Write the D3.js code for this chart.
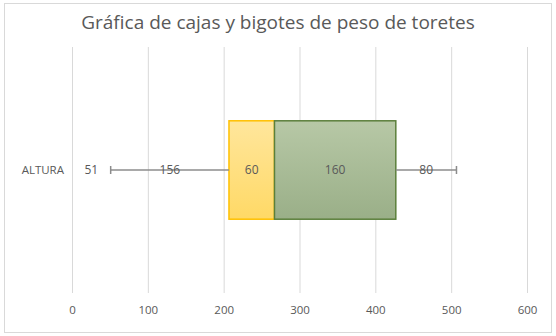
<html>
<head>
    <meta charset="UTF-8">
    <title>Gráfica de cajas y bigotes</title>
    <script src="https://cdnjs.cloudflare.com/ajax/libs/d3/7.8.5/d3.min.js"></script>
    <style>
        body { margin: 0; background: #fff; }
        text { font-family: "Open Sans", "DejaVu Sans", sans-serif; fill: #595959; }
    </style>
</head>
<body>
<script>
    // datos (segmentos apilados del diagrama de caja)
    var categorias = ["ALTURA"];
    var minimo = [51];
    var bigoteInf = [156];
    var cajaInf = [60];
    var cajaSup = [160];
    var bigoteSup = [80];
    var ticks = [0, 100, 200, 300, 400, 500, 600];

    var claves = ["minimo", "bigoteInf", "cajaInf", "cajaSup", "bigoteSup"];
    var tabla = categorias.map(function (c, i) {
        return {cat: c, minimo: minimo[i], bigoteInf: bigoteInf[i], cajaInf: cajaInf[i],
            cajaSup: cajaSup[i], bigoteSup: bigoteSup[i]};
    });

    var width = 556, height = 336;
    var margin = {left: 72, right: 29, top: 47, bottom: 43};

    var svg = d3.select("body").append("svg")
            .attr("width", width)
            .attr("height", height);

    var defs = svg.append("defs");
    var gAm = defs.append("linearGradient").attr("id", "amarillo")
            .attr("x1", 0).attr("y1", 0).attr("x2", 0).attr("y2", 1);
    gAm.append("stop").attr("offset", "0%").attr("stop-color", "#ffe69c");
    gAm.append("stop").attr("offset", "100%").attr("stop-color", "#ffd966");
    var gVe = defs.append("linearGradient").attr("id", "verde")
            .attr("x1", 0).attr("y1", 0).attr("x2", 0).attr("y2", 1);
    gVe.append("stop").attr("offset", "0%").attr("stop-color", "#b7c8a6");
    gVe.append("stop").attr("offset", "100%").attr("stop-color", "#9aaf88");

    // borde del gráfico
    svg.append("rect")
            .attr("x", 4.5).attr("y", 3.5)
            .attr("width", 547).attr("height", 329)
            .attr("fill", "#fff")
            .attr("stroke", "#d9d9d9");

    svg.append("text")
            .attr("x", width / 2)
            .attr("y", 29)
            .attr("text-anchor", "middle")
            .style("font-size", "19px")
            .text("Gráfica de cajas y bigotes de peso de toretes");

    var innerW = width - margin.left - margin.right;
    var innerH = height - margin.top - margin.bottom;

    var x = d3.scaleLinear().domain([0, 600]).range([0, innerW]);
    var y = d3.scaleBand().domain(categorias).range([0, innerH]).paddingInner(0.6).paddingOuter(0.3);

    var g = svg.append("g")
            .attr("transform", "translate(" + margin.left + "," + margin.top + ")");

    // rejilla
    g.selectAll(".grid")
            .data(ticks)
            .enter()
            .append("line")
            .attr("x1", function (d) { return x(d) + 0.5; })
            .attr("x2", function (d) { return x(d) + 0.5; })
            .attr("y1", 0)
            .attr("y2", innerH)
            .attr("stroke", "#d9d9d9")
            .attr("stroke-width", 1);

    var xAxis = d3.axisBottom(x).tickValues(ticks).tickSize(0).tickPadding(13);
    var ax = g.append("g")
            .attr("transform", "translate(0," + innerH + ")")
            .call(xAxis);
    ax.select(".domain").remove();
    ax.selectAll("text").style("font-size", "11.5px").attr("fill", "#595959");

    var yAxis = d3.axisLeft(y).tickSize(0).tickPadding(8);
    var ay = g.append("g").call(yAxis);
    ay.select(".domain").remove();
    ay.selectAll("text").style("font-size", "11.5px").attr("fill", "#595959");

    var series = d3.stack().keys(claves)(tabla);

    var relleno = {minimo: "none", bigoteInf: "none", cajaInf: "url(#amarillo)", cajaSup: "url(#verde)", bigoteSup: "none"};
    var trazo = {minimo: "none", bigoteInf: "none", cajaInf: "#ffc000", cajaSup: "#5b7f3b", bigoteSup: "none"};

    var capas = g.selectAll(".serie")
            .data(series)
            .enter()
            .append("g");

    capas.selectAll("rect")
            .data(function (s) { return s.map(function (d) { return {key: s.key, d: d}; }); })
            .enter()
            .append("rect")
            .attr("x", function (o) { return x(o.d[0]); })
            .attr("y", function (o) { return y(o.d.data.cat); })
            .attr("width", function (o) { return x(o.d[1]) - x(o.d[0]); })
            .attr("height", y.bandwidth())
            .attr("fill", function (o) { return relleno[o.key]; })
            .attr("stroke", function (o) { return trazo[o.key]; })
            .attr("stroke-width", 1.5);

    // bigotes
    var bigotes = series.filter(function (s) { return s.key === "bigoteInf" || s.key === "bigoteSup"; });
    bigotes.forEach(function (s) {
        s.forEach(function (d) {
            var cy = y(d.data.cat) + y.bandwidth() / 2;
            var extremo = s.key === "bigoteInf" ? d[0] : d[1];
            g.append("line")
                    .attr("x1", x(d[0])).attr("x2", x(d[1]))
                    .attr("y1", cy).attr("y2", cy)
                    .attr("stroke", "#8c8c8c").attr("stroke-width", 1.5);
            g.append("line")
                    .attr("x1", x(extremo)).attr("x2", x(extremo))
                    .attr("y1", cy - 4).attr("y2", cy + 4)
                    .attr("stroke", "#8c8c8c").attr("stroke-width", 1.5);
        });
    });

    // etiquetas de datos
    series.forEach(function (s) {
        s.forEach(function (d) {
            g.append("text")
                    .attr("x", x((d[0] + d[1]) / 2))
                    .attr("y", y(d.data.cat) + y.bandwidth() / 2)
                    .attr("dy", "0.35em")
                    .attr("text-anchor", "middle")
                    .style("font-size", "12px")
                    .text(d[1] - d[0]);
        });
    });
</script>
</body>
</html>
